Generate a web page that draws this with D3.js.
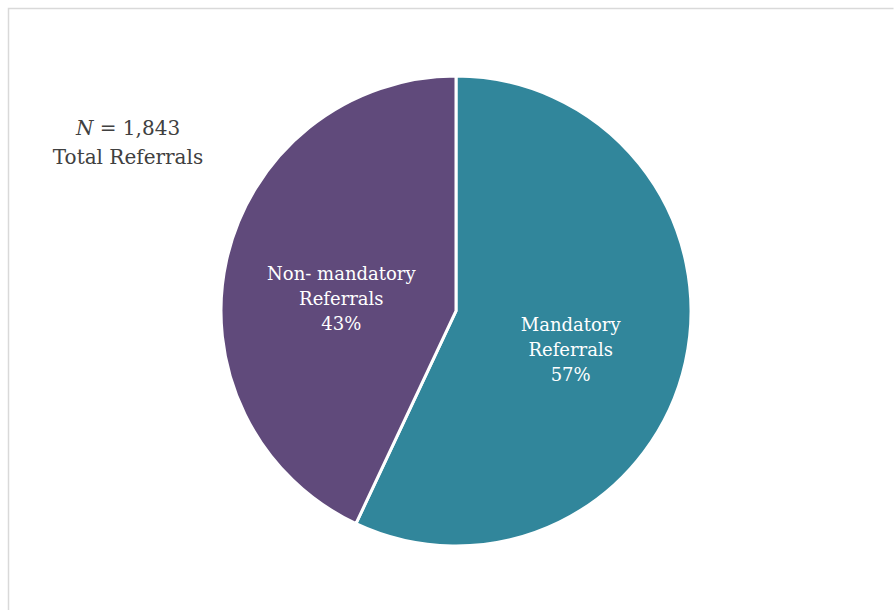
<!DOCTYPE html>
<html>
<head>
<meta charset="utf-8">
<script src="https://cdn.jsdelivr.net/npm/d3@7"></script>
<style>
  html, body { margin: 0; padding: 0; background: #fff; }
  svg { display: block; }
  text { font-family: "DejaVu Serif", "Liberation Serif", serif; }
</style>
</head>
<body>
<svg id="chart" width="894" height="610"></svg>
<script>
// Referral breakdown (percent of total)
const categories = ["Mandatory Referrals", "Non- mandatory Referrals"];
const labelLines = [["Mandatory", "Referrals"], ["Non- mandatory", "Referrals"]];
const values = [57, 43];
const colors = ["#31869b", "#604a7b"];
const totalReferrals = "1,843";

const svg = d3.select("#chart");

// chart frame
svg.append("path")
  .attr("d", "M8.5,610 L8.5,8.5 L893.5,8.5")
  .attr("fill", "none")
  .attr("stroke", "#d9d9d9")
  .attr("stroke-width", 1.5);

const cx = 456, cy = 311, r = 235;
const g = svg.append("g").attr("transform", `translate(${cx},${cy})`);

const pie = d3.pie().sort(null).value(d => d.value);
const arcs = pie(categories.map((c, i) => ({ name: c, value: values[i], lines: labelLines[i], color: colors[i] })));
const arc = d3.arc().innerRadius(0).outerRadius(r);

g.selectAll("path.slice")
  .data(arcs)
  .join("path")
  .attr("class", "slice")
  .attr("d", arc)
  .attr("fill", d => d.data.color)
  .attr("stroke", "#fff")
  .attr("stroke-width", 3)
  .attr("stroke-linejoin", "miter");

// slice labels, centred at half the radius
const labelArc = d3.arc().innerRadius(r * 0.5).outerRadius(r * 0.5);
arcs.forEach(d => {
  const [lx, ly] = labelArc.centroid(d);
  const lines = [...d.data.lines, `${d.data.value}%`];
  const t = g.append("text")
    .attr("text-anchor", "middle")
    .attr("fill", "#fff")
    .attr("font-size", 18);
  lines.forEach((ln, j) => {
    t.append("tspan")
      .attr("x", lx)
      .attr("y", ly + 13 + (j - 1) * 25 + 6.5)
      .text(ln);
  });
});

// total annotation
const note = svg.append("text")
  .attr("text-anchor", "middle")
  .attr("fill", "#404040")
  .attr("font-size", 20);
const l1 = note.append("tspan").attr("x", 128).attr("y", 135);
l1.append("tspan").attr("font-style", "italic").text("N");
l1.append("tspan").text(` = ${totalReferrals}`);
note.append("tspan").attr("x", 128).attr("y", 164).text("Total Referrals");
</script>
</body>
</html>
